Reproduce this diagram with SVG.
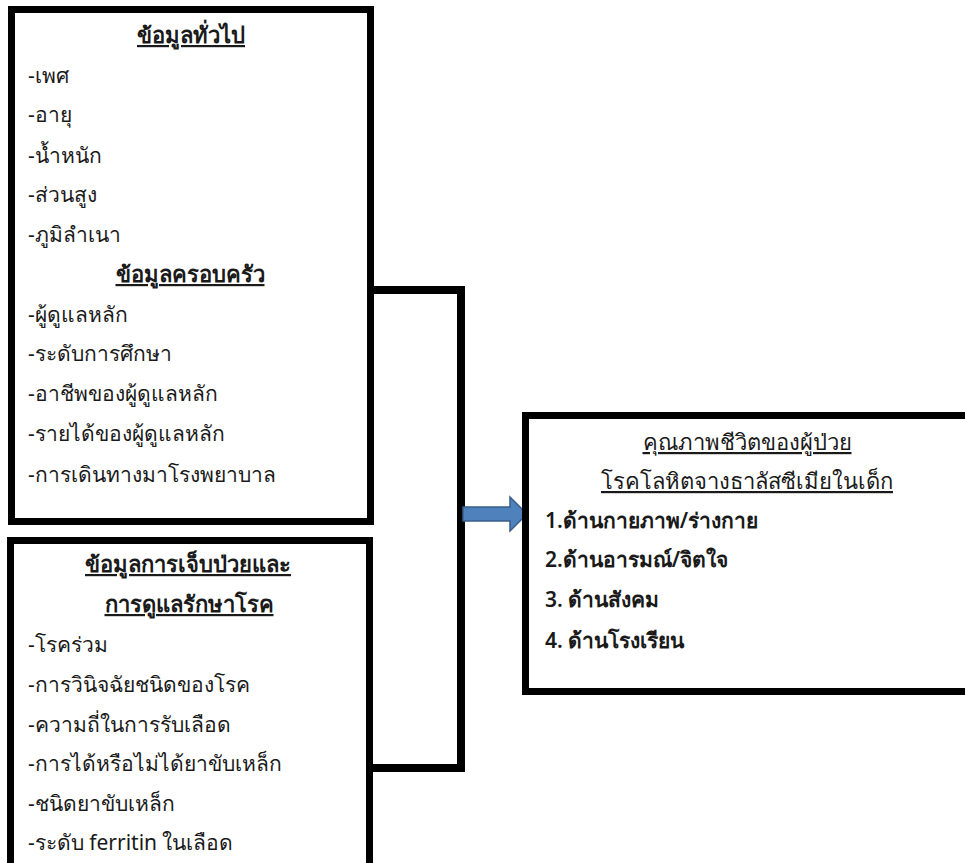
<svg xmlns="http://www.w3.org/2000/svg" width="965" height="863" viewBox="0 0 965 863">
<style>
.box{fill:#fff;stroke:#000;stroke-width:7}
.t{font-family:"Noto Sans",sans-serif;font-size:21px;fill:#1a1a1a}
.h{font-size:22px;font-weight:bold;text-decoration:underline;text-anchor:middle}
.hr{font-size:22px;text-decoration:underline;text-anchor:middle}
.b{font-weight:600}
</style>
<rect width="965" height="863" fill="#fff"/>
<g id="connectors">
<polyline points="374,290 461,290 461,768 372,768" fill="none" stroke="#000" stroke-width="8"/>
<path d="M463,507 H510 V497 L527,514 L510,531 V521 H463 Z" fill="#4f81bd" stroke="#385d8a" stroke-width="1.5"/>
</g>
<g id="box-general">
<rect class="box" x="11.5" y="9.5" width="359" height="512"/>
<text class="t h" x="191" y="43">ข้อมูลทั่วไป</text>
<text class="t" x="28" y="83">-เพศ</text>
<text class="t" x="28" y="122">-อายุ</text>
<text class="t" x="28" y="163">-น้ำหนัก</text>
<text class="t" x="28" y="202">-ส่วนสูง</text>
<text class="t" x="28" y="242">-ภูมิลำเนา</text>
<text class="t h" x="190" y="282">ข้อมูลครอบครัว</text>
<text class="t" x="28" y="322">-ผู้ดูแลหลัก</text>
<text class="t" x="28" y="361">-ระดับการศึกษา</text>
<text class="t" x="28" y="401">-อาชีพของผู้ดูแลหลัก</text>
<text class="t" x="28" y="441">-รายได้ของผู้ดูแลหลัก</text>
<text class="t" x="28" y="482">-การเดินทางมาโรงพยาบาล</text>
</g>
<g id="box-illness">
<rect class="box" x="10.5" y="540.5" width="359" height="340"/>
<text class="t h" x="188" y="572">ข้อมูลการเจ็บป่วยและ</text>
<text class="t h" x="189" y="612">การดูแลรักษาโรค</text>
<text class="t" x="28" y="652">-โรคร่วม</text>
<text class="t" x="28" y="692">-การวินิจฉัยชนิดของโรค</text>
<text class="t" x="28" y="732">-ความถี่ในการรับเลือด</text>
<text class="t" x="28" y="771">-การได้หรือไม่ได้ยาขับเหล็ก</text>
<text class="t" x="28" y="811">-ชนิดยาขับเหล็ก</text>
<text class="t" x="28" y="850">-ระดับ ferritin ในเลือด</text>
</g>
<g id="box-qol">
<rect class="box" x="525.5" y="415.5" width="460" height="276"/>
<text class="t hr" x="747" y="450">คุณภาพชีวิตของผู้ป่วย</text>
<text class="t hr" x="747" y="489">โรคโลหิตจางธาลัสซีเมียในเด็ก</text>
<text class="t b" x="545" y="528">1.ด้านกายภาพ/ร่างกาย</text>
<text class="t b" x="545" y="567">2.ด้านอารมณ์/จิตใจ</text>
<text class="t b" x="545" y="607">3. ด้านสังคม</text>
<text class="t b" x="545" y="648">4. ด้านโรงเรียน</text>
</g>
</svg>
